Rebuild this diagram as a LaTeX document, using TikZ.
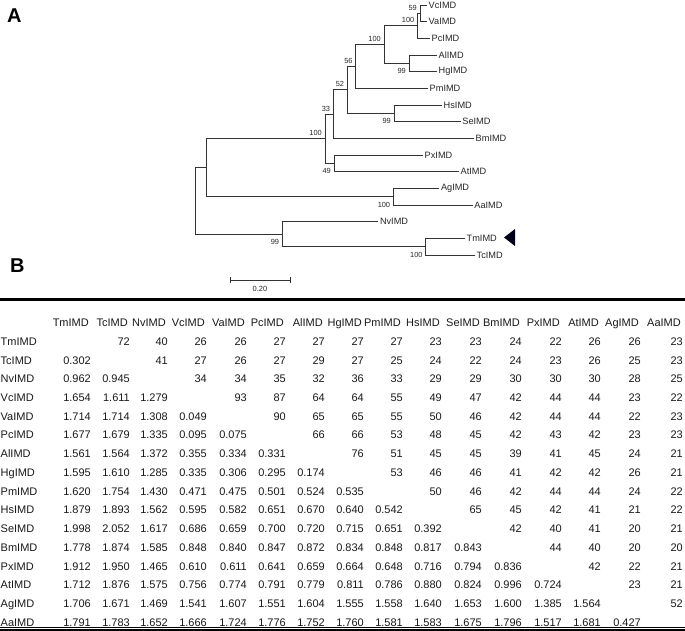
\documentclass[tikz,border=0pt]{standalone}
\usepackage{fontspec}
\setmainfont{Liberation Sans}
\def\colx{{91,130,168,207,247,286,325,364,403,442,482,522,562,601,641,683}}
\newcommand\rowlabel[2]{\pgfmathsetmacro\yy{345.3+18.73*(#1-1)}\node[rowlab] (r#1) at (0.5,\yy) {#2};}
\newcommand\lowcells[2]{\pgfmathsetmacro\yy{345.3+18.73*(#1-1)}%
  \foreach \vv [count=\cc] in {#2}{\pgfmathsetmacro\xx{\colx[\cc-1]}\node[cell] (d#1-\cc) at (\xx,\yy) {\vv};}}
\newcommand\upcells[2]{\pgfmathsetmacro\yy{345.3+18.73*(#1-1)}\pgfmathtruncatemacro\st{#1+1}%
  \foreach \vv [count=\cc from \st] in {#2}{\pgfmathsetmacro\xx{\colx[\cc-1]}\node[cell] (u#1-\cc) at (\xx,\yy) {\vv};}}
\begin{document}
\begin{tikzpicture}[x=1pt,y=-1pt,
  br/.style={line width=0.8pt, draw=black!80},
  leaf/.style={anchor=west, inner sep=1.5pt, font=\fontsize{9.2}{10}\selectfont, text=black!85},
  bs/.style={anchor=base east, inner sep=0pt, font=\fontsize{7.4}{8}\selectfont, text=black!85},
  cell/.style={anchor=base east, inner sep=0pt, font=\fontsize{11}{12}\selectfont, text=black!90},
  rowlab/.style={anchor=base west, inner sep=0pt, font=\fontsize{11}{12}\selectfont, text=black!90},
  panel/.style={anchor=base west, inner sep=0pt, font=\fontsize{20}{22}\selectfont\bfseries}]
\useasboundingbox (0,0) rectangle (685,631);
% panel labels
\node[panel] (pA) at (7,23) {A};
\node[panel] (pB) at (10,272.3) {B};
% internal nodes of the tree
\coordinate (root) at (195,200.9);
\coordinate (nX) at (206.7,167.7);
\coordinate (n99) at (282.3,234.2);
\coordinate (n100b) at (325,138.7);
\coordinate (nAgAa) at (393.3,196.65);
\coordinate (n33) at (333.3,114.1);
\coordinate (nPxAt) at (334,163.35);
\coordinate (n52) at (347.3,89.9);
\coordinate (n56) at (355.7,66.45);
\coordinate (nHsSe) at (394,113.35);
\coordinate (n100a) at (384,44.6);
\coordinate (nAlHg) at (409,63.35);
\coordinate (nVVP) at (417.5,25.8);
\coordinate (nVV) at (420,13.35);
\coordinate (nTmTc) at (425.7,246.65);
% leaves
\coordinate (Vc) at (427,5);
\coordinate (Va) at (427,21.7);
\coordinate (Pc) at (430,38.3);
\coordinate (Al) at (437,55);
\coordinate (Hg) at (437,71.7);
\coordinate (Pm) at (428,88.3);
\coordinate (Hs) at (442,105);
\coordinate (Se) at (460.7,121.7);
\coordinate (Bm) at (474,138.3);
\coordinate (Px) at (423,155);
\coordinate (At) at (459,171.7);
\coordinate (Ag) at (439.3,188.3);
\coordinate (Aa) at (472.7,205);
\coordinate (Nv) at (378.3,221.7);
\coordinate (Tm) at (465,238.3);
\coordinate (Tc) at (475,255);
% branches
\foreach \p/\c in {root/nX,root/n99,nX/n100b,nX/nAgAa,n100b/n33,n100b/nPxAt,
  n33/n52,n33/Bm,n52/n56,n52/nHsSe,n56/n100a,n56/Pm,n100a/nVVP,n100a/nAlHg,
  nVVP/nVV,nVVP/Pc,nVV/Vc,nVV/Va,nAlHg/Al,nAlHg/Hg,nHsSe/Hs,nHsSe/Se,
  nPxAt/Px,nPxAt/At,nAgAa/Ag,nAgAa/Aa,n99/Nv,n99/nTmTc,nTmTc/Tm,nTmTc/Tc}
  {\draw[br] (\p) |- (\c);}
% leaf labels
\foreach \l in {Vc,Va,Pc,Al,Hg,Pm,Hs,Se,Bm,Px,At,Ag,Aa,Nv,Tm,Tc}
  {\node[leaf] (l\l) at (\l) {\l IMD};}
% bootstrap values
\node[bs] (b1) at ([shift={(-3,-3)}]nVV) {59};
\node[bs] (b2) at ([shift={(-3,-3)}]nVVP) {100};
\node[bs] (b3) at ([shift={(-3,10.5)}]nAlHg) {99};
\node[bs] (b4) at ([shift={(-3,-3)}]n100a) {100};
\node[bs] (b5) at ([shift={(-3,-3)}]n56) {56};
\node[bs] (b6) at ([shift={(-3,-3)}]n52) {52};
\node[bs] (b7) at ([shift={(-3,10.5)}]nHsSe) {99};
\node[bs] (b8) at ([shift={(-3,-3)}]n33) {33};
\node[bs] (b9) at ([shift={(-3,-3)}]n100b) {100};
\node[bs] (b10) at ([shift={(-3,10.5)}]nPxAt) {49};
\node[bs] (b11) at ([shift={(-3,10.5)}]nAgAa) {100};
\node[bs] (b12) at ([shift={(-3,10.5)}]n99) {99};
\node[bs] (b13) at ([shift={(-3,10.5)}]nTmTc) {100};
% marker
\fill[black!90!blue] (504,237.5) -- (515,229) -- (515,246) -- cycle;
% scale bar
\coordinate (sbL) at (230,280);
\coordinate (sbR) at (290,280);
\draw[br] (sbL) -- (sbR);
\draw[br] ([yshift=-3pt]sbL) -- ([yshift=3pt]sbL);
\draw[br] ([yshift=-3pt]sbR) -- ([yshift=3pt]sbR);
\node[anchor=base, inner sep=0pt, font=\fontsize{7.5}{8}\selectfont, text=black!85] (sbt) at (260,291) {0.20};
% table rules
\draw[line width=2.5pt] (0,299.5) -- (685,299.5);
\draw[line width=0.8pt] (0,627.5) -- (685,627.5);
\draw[line width=2pt] (0,630) -- (685,630);
% header
\foreach \h [count=\cc] in {TmIMD,TcIMD,NvIMD,VcIMD,VaIMD,PcIMD,AlIMD,HgIMD,PmIMD,HsIMD,SeIMD,BmIMD,PxIMD,AtIMD,AgIMD,AaIMD}
  {\pgfmathsetmacro\xx{\colx[\cc-1]-2}\node[cell] (h\cc) at (\xx,326) {\h};}
% rows
\rowlabel{1}{TmIMD}
\upcells{1}{72,40,26,26,27,27,27,27,23,23,24,22,26,26,23}
\rowlabel{2}{TcIMD}
\lowcells{2}{0.302}
\upcells{2}{41,27,26,27,29,27,25,24,22,24,23,26,25,23}
\rowlabel{3}{NvIMD}
\lowcells{3}{0.962,0.945}
\upcells{3}{34,34,35,32,36,33,29,29,30,30,30,28,25}
\rowlabel{4}{VcIMD}
\lowcells{4}{1.654,1.611,1.279}
\upcells{4}{93,87,64,64,55,49,47,42,44,44,23,22}
\rowlabel{5}{VaIMD}
\lowcells{5}{1.714,1.714,1.308,0.049}
\upcells{5}{90,65,65,55,50,46,42,44,44,22,23}
\rowlabel{6}{PcIMD}
\lowcells{6}{1.677,1.679,1.335,0.095,0.075}
\upcells{6}{66,66,53,48,45,42,43,42,23,23}
\rowlabel{7}{AlIMD}
\lowcells{7}{1.561,1.564,1.372,0.355,0.334,0.331}
\upcells{7}{76,51,45,45,39,41,45,24,21}
\rowlabel{8}{HgIMD}
\lowcells{8}{1.595,1.610,1.285,0.335,0.306,0.295,0.174}
\upcells{8}{53,46,46,41,42,42,26,21}
\rowlabel{9}{PmIMD}
\lowcells{9}{1.620,1.754,1.430,0.471,0.475,0.501,0.524,0.535}
\upcells{9}{50,46,42,44,44,24,22}
\rowlabel{10}{HsIMD}
\lowcells{10}{1.879,1.893,1.562,0.595,0.582,0.651,0.670,0.640,0.542}
\upcells{10}{65,45,42,41,21,22}
\rowlabel{11}{SeIMD}
\lowcells{11}{1.998,2.052,1.617,0.686,0.659,0.700,0.720,0.715,0.651,0.392}
\upcells{11}{42,40,41,20,21}
\rowlabel{12}{BmIMD}
\lowcells{12}{1.778,1.874,1.585,0.848,0.840,0.847,0.872,0.834,0.848,0.817,0.843}
\upcells{12}{44,40,20,20}
\rowlabel{13}{PxIMD}
\lowcells{13}{1.912,1.950,1.465,0.610,0.611,0.641,0.659,0.664,0.648,0.716,0.794,0.836}
\upcells{13}{42,22,21}
\rowlabel{14}{AtIMD}
\lowcells{14}{1.712,1.876,1.575,0.756,0.774,0.791,0.779,0.811,0.786,0.880,0.824,0.996,0.724}
\upcells{14}{23,21}
\rowlabel{15}{AgIMD}
\lowcells{15}{1.706,1.671,1.469,1.541,1.607,1.551,1.604,1.555,1.558,1.640,1.653,1.600,1.385,1.564}
\upcells{15}{52}
\rowlabel{16}{AaIMD}
\lowcells{16}{1.791,1.783,1.652,1.666,1.724,1.776,1.752,1.760,1.581,1.583,1.675,1.796,1.517,1.681,0.427}
\end{tikzpicture}
\end{document}
